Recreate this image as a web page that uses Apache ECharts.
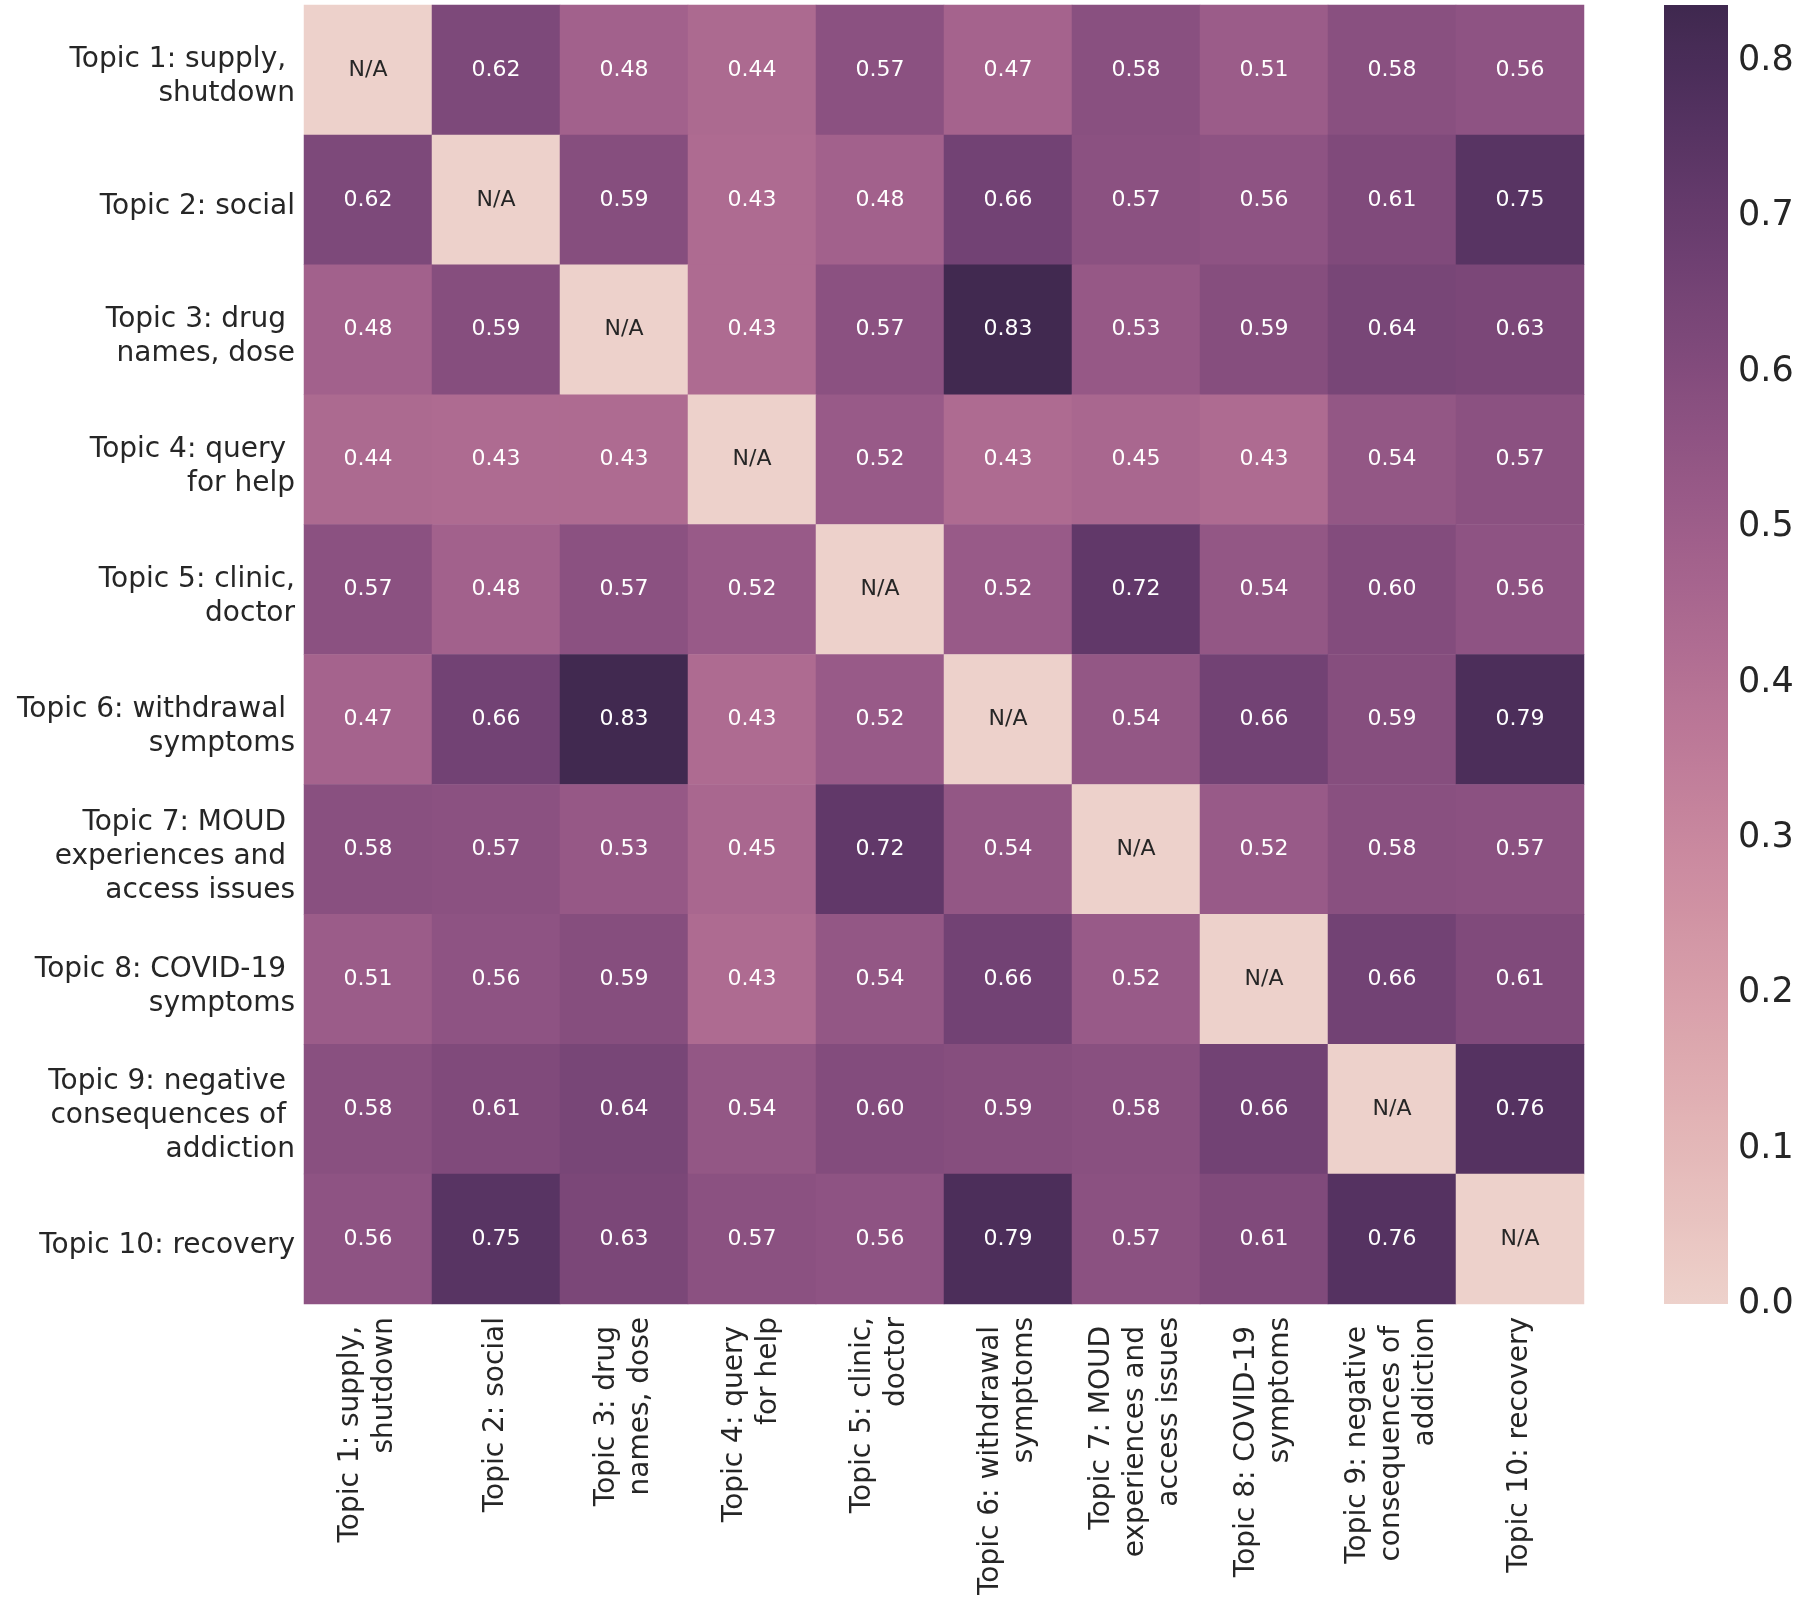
<!DOCTYPE html>
<html>
<head>
<meta charset="utf-8">
<script src="https://cdn.jsdelivr.net/npm/echarts@6/dist/echarts.min.js"></script>
<style>
html,body{margin:0;padding:0;background:#fff;}
#chart{width:1800px;height:1613px;}
</style>
</head>
<body>
<div id="chart"></div>
<script>
// ---- data ----
const yLabels = [
  "Topic 1: supply, \nshutdown",
  "Topic 2: social",
  "Topic 3: drug \nnames, dose",
  "Topic 4: query \nfor help",
  "Topic 5: clinic,\ndoctor",
  "Topic 6: withdrawal \nsymptoms",
  "Topic 7: MOUD \nexperiences and \naccess issues",
  "Topic 8: COVID-19 \nsymptoms",
  "Topic 9: negative \nconsequences of \naddiction",
  "Topic 10: recovery"
];
const xLabels = yLabels;
const row1  = [null, 0.62, 0.48, 0.44, 0.57, 0.47, 0.58, 0.51, 0.58, 0.56];
const row2  = [0.62, null, 0.59, 0.43, 0.48, 0.66, 0.57, 0.56, 0.61, 0.75];
const row3  = [0.48, 0.59, null, 0.43, 0.57, 0.83, 0.53, 0.59, 0.64, 0.63];
const row4  = [0.44, 0.43, 0.43, null, 0.52, 0.43, 0.45, 0.43, 0.54, 0.57];
const row5  = [0.57, 0.48, 0.57, 0.52, null, 0.52, 0.72, 0.54, 0.60, 0.56];
const row6  = [0.47, 0.66, 0.83, 0.43, 0.52, null, 0.54, 0.66, 0.59, 0.79];
const row7  = [0.58, 0.57, 0.53, 0.45, 0.72, 0.54, null, 0.52, 0.58, 0.57];
const row8  = [0.51, 0.56, 0.59, 0.43, 0.54, 0.66, 0.52, null, 0.66, 0.61];
const row9  = [0.58, 0.61, 0.64, 0.54, 0.60, 0.59, 0.58, 0.66, null, 0.76];
const row10 = [0.56, 0.75, 0.63, 0.57, 0.56, 0.79, 0.57, 0.61, 0.76, null];
const rows = [row1,row2,row3,row4,row5,row6,row7,row8,row9,row10];
const colorbarMin = 0.0;
const colorbarMax = 0.836;
const colorbarTicks = [0.0,0.1,0.2,0.3,0.4,0.5,0.6,0.7,0.8];

// ---- seaborn-style cubehelix palette (light=.85, dark=.2) ----
function cubehelix(x){
  const start=0, rot=0.4, gamma=1, hue=0.8;
  const xg = Math.pow(x,gamma);
  const a = hue*xg*(1-xg)/2;
  const phi = 2*Math.PI*(start/3 + rot*x);
  const f=(p0,p1)=>Math.min(1,Math.max(0,xg + a*(p0*Math.cos(phi)+p1*Math.sin(phi))));
  const r=f(-0.14861,1.78277), g=f(-0.29227,-0.90649), b=f(1.97294,0);
  return 'rgb('+Math.round(r*255)+','+Math.round(g*255)+','+Math.round(b*255)+')';
}
const N=64, LIGHT=0.85, DARK=0.2;
const rampColors=[];
for(let i=0;i<N;i++){ const t=i/(N-1); rampColors.push(cubehelix(LIGHT - (LIGHT-DARK)*t)); }
const gradStops = rampColors.map((c,i)=>({offset:i/(N-1), color:c}));

// ---- build heatmap items ----
const items=[];
rows.forEach((r,yi)=>{
  r.forEach((v,xi)=>{
    const isNA = (v===null);
    items.push({
      value:[xi, yi, isNA ? colorbarMin : v],
      label:{
        formatter: isNA ? 'N/A' : v.toFixed(2),
        color: isNA ? '#262626' : '#ffffff'
      }
    });
  });
});

const textColor = '#262626';
const fontFam = '"DejaVu Sans", sans-serif';

const chart = echarts.init(document.getElementById('chart'), null, {renderer:'canvas'});
chart.setOption({
  backgroundColor:'#ffffff',
  animation:false,
  grid:[
    {left:304, top:5, width:1280, height:1299},
    {left:1664, top:5, width:64, height:1299},
    {left:304, top:12, width:1280, height:1299}
  ],
  xAxis:[
    {type:'category', gridIndex:0, data:xLabels, position:'bottom',
     axisLine:{show:false}, axisTick:{show:false}, splitLine:{show:false},
     axisLabel:{interval:0, rotate:90, fontSize:28, lineHeight:34, color:textColor, fontFamily:fontFam, margin:13}},
    {type:'category', gridIndex:1, data:['cb'], show:false},
    {type:'category', gridIndex:2, data:xLabels, show:false}
  ],
  yAxis:[
    {type:'category', gridIndex:0, data:yLabels, inverse:true,
     axisLine:{show:false}, axisTick:{show:false}, splitLine:{show:false}, axisLabel:{show:false}},
    {type:'value', gridIndex:1, min:colorbarMin, max:colorbarMax, interval:0.1, position:'right',
     axisLine:{show:false}, axisTick:{show:false}, splitLine:{show:false},
     axisLabel:{fontSize:35, color:textColor, fontFamily:fontFam, margin:10, showMaxLabel:false,
       formatter:(v)=> colorbarTicks.some(t=>Math.abs(t-v)<1e-6) ? v.toFixed(1) : ''}},
    {type:'category', gridIndex:2, data:yLabels, inverse:true,
     axisLine:{show:false}, axisTick:{show:false}, splitLine:{show:false},
     axisLabel:{interval:0, fontSize:28, lineHeight:34, color:textColor, fontFamily:fontFam, margin:9, align:'right'}}
  ],
  visualMap:{
    show:false, type:'continuous', min:colorbarMin, max:colorbarMax, seriesIndex:0,
    inRange:{color:rampColors}
  },
  series:[
    {type:'heatmap', xAxisIndex:0, yAxisIndex:0, data:items,
     label:{show:true, fontSize:22, fontFamily:fontFam},
     itemStyle:{borderWidth:0}},
    {type:'bar', xAxisIndex:1, yAxisIndex:1, data:[colorbarMax], barWidth:'100%',
     itemStyle:{color:new echarts.graphic.LinearGradient(0,1,0,0,gradStops)}, silent:true}
  ]
});
</script>
</body>
</html>
